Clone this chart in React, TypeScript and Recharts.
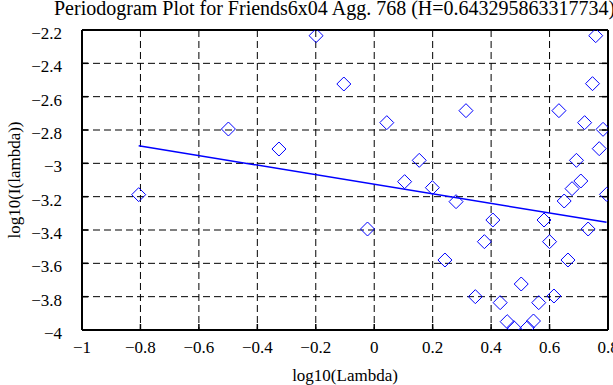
import React from "react";
import { ScatterChart, Scatter, XAxis, YAxis, CartesianGrid, Label } from "recharts";

// log10(lambda) / log10(I(lambda))
const lambdaLog = [
  -0.806, -0.499, -0.326, -0.199, -0.104, -0.023, 0.043, 0.104, 0.154, 0.199,
  0.242, 0.28, 0.314, 0.346, 0.377, 0.406, 0.431, 0.455, 0.478, 0.503,
  0.524, 0.545, 0.563, 0.581, 0.6, 0.615, 0.632, 0.65, 0.663, 0.677,
  0.692, 0.707, 0.72, 0.732, 0.747, 0.758, 0.77, 0.783, 0.795,
];
const powerLog = [
  -3.188, -2.794, -2.914, -2.234, -2.524, -3.394, -2.756, -3.11, -2.982, -3.146,
  -3.58, -3.23, -2.684, -3.8, -3.47, -3.34, -3.836, -3.95, -3.986, -3.724,
  -3.986, -3.946, -3.836, -3.34, -3.47, -3.796, -2.684, -3.226, -3.58, -3.152,
  -2.982, -3.106, -2.756, -3.394, -2.522, -2.234, -2.912, -2.796, -3.186,
];
// least squares fit, slope = 1 - 2H
const fitLambda = [-0.806, 0.795];
const fitPower = [-2.894, -3.354];

const xTicks = [-1, -0.8, -0.6, -0.4, -0.2, 0, 0.2, 0.4, 0.6, 0.8];
const yTicks = [-4, -3.8, -3.6, -3.4, -3.2, -3, -2.8, -2.6, -2.4, -2.2];

const title = "Periodogram Plot for Friends6x04 Agg. 768 (H=0.643295863317734)";

const points = lambdaLog.map((x, i) => ({ x, y: powerLog[i] }));
const fitLine = fitLambda.map((x, i) => ({ x, y: fitPower[i] }));

const FONT = "'Liberation Serif', 'Times New Roman', serif";
const minus = (v: number) => String(v).replace("-", "\u2212");
const frame = { stroke: "#000", strokeWidth: 2 };
const tickLn = { stroke: "#000", strokeWidth: 1.5 };

const Diamond = (props: any) => {
  const { cx, cy } = props;
  if (cx == null || cy == null) return null;
  const r = 7;
  return (
    <polygon
      points={`${cx},${cy - r} ${cx + r},${cy} ${cx},${cy + r} ${cx - r},${cy}`}
      fill="none"
      stroke="#0000ff"
      strokeWidth={1}
    />
  );
};

const App = () => {
  return (
    <div style={{ position: "absolute", left: 0, top: 0, background: "#fff" }}>
      <ScatterChart width={613} height={385} margin={{ top: 0, right: 0, bottom: 0, left: 0 }}>
        <CartesianGrid stroke="#000" strokeDasharray="7 4" strokeWidth={1} />
        <XAxis
          dataKey="x"
          type="number"
          domain={[-1, 0.8]}
          ticks={xTicks}
          interval={0}
          height={55}
          tickSize={-6}
          tickMargin={17}
          tickFormatter={minus}
          tick={{ fill: "#000", fontFamily: FONT, fontSize: 17 }}
          axisLine={frame}
          tickLine={tickLn}
          allowDataOverflow
        >
          <Label
            content={() => (
              <text x={345} y={381} textAnchor="middle" fontFamily={FONT} fontSize={17} fill="#000">
                log10(Lambda)
              </text>
            )}
          />
        </XAxis>
        <XAxis
          xAxisId="top"
          orientation="top"
          type="number"
          domain={[-1, 0.8]}
          ticks={xTicks}
          interval={0}
          height={30}
          tickSize={-6}
          tickFormatter={() => ""}
          axisLine={frame}
          tickLine={tickLn}
          allowDataOverflow
        >
          <Label
            content={() => (
              <text x={54} y={15} fontFamily={FONT} fontSize={20} fill="#000">
                {title}
              </text>
            )}
          />
        </XAxis>
        <YAxis
          dataKey="y"
          type="number"
          domain={[-4, -2.2]}
          ticks={yTicks}
          interval={0}
          width={82}
          tickSize={-6}
          tickMargin={26}
          tickFormatter={minus}
          tick={{ fill: "#000", fontFamily: FONT, fontSize: 17, dy: 3 }}
          axisLine={frame}
          tickLine={tickLn}
          allowDataOverflow
        >
          <Label
            content={() => (
              <text
                x={14}
                y={180}
                transform="rotate(-90, 14, 180)"
                textAnchor="middle"
                dominantBaseline="central"
                fontFamily={FONT}
                fontSize={17}
                fill="#000"
              >
                log10(I(lambda))
              </text>
            )}
          />
        </YAxis>
        <YAxis
          yAxisId="right"
          orientation="right"
          type="number"
          domain={[-4, -2.2]}
          ticks={yTicks}
          interval={0}
          width={5}
          tickSize={-6}
          tickFormatter={() => ""}
          axisLine={frame}
          tickLine={tickLn}
          allowDataOverflow
        />
        <Scatter data={points} shape={<Diamond />} isAnimationActive={false} />
        <Scatter
          data={fitLine}
          line={{ stroke: "#0000ff", strokeWidth: 1.5 }}
          shape={() => <g />}
          isAnimationActive={false}
        />
      </ScatterChart>
    </div>
  );
};

export default App;
